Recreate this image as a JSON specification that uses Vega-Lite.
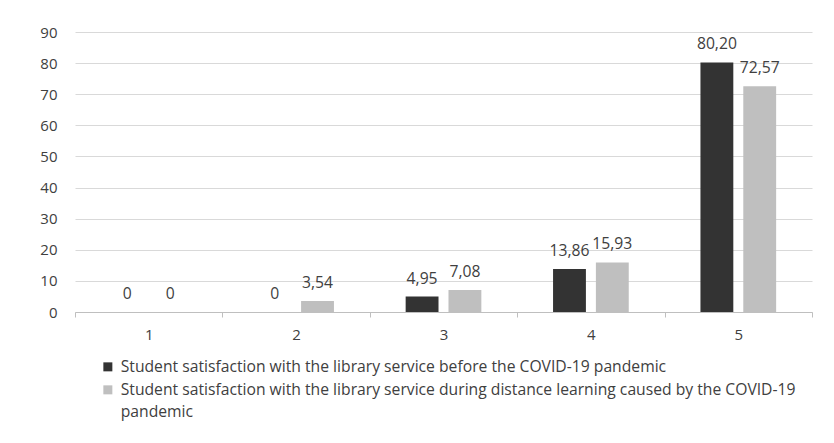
{
  "$schema": "https://vega.github.io/schema/vega-lite/v6.json",
  "width": 737,
  "height": 280,
  "autosize": {"type": "none"},
  "padding": {"left": 75, "top": 32, "right": 22, "bottom": 131},
  "background": "white",
  "config": {
    "view": {"stroke": null},
    "font": "Open Sans",
    "style": {"guide-label": {"lineHeight": 22}},
    "legend": {"labelFont": "Open Sans"}
  },
  "data": {
    "values": [
      {"category": "1", "series": "Student satisfaction with the library service before the COVID-19 pandemic", "value": 0},
      {"category": "1", "series": "Student satisfaction with the library service during distance learning caused by the COVID-19 pandemic", "value": 0},
      {"category": "2", "series": "Student satisfaction with the library service before the COVID-19 pandemic", "value": 0},
      {"category": "2", "series": "Student satisfaction with the library service during distance learning caused by the COVID-19 pandemic", "value": 3.54},
      {"category": "3", "series": "Student satisfaction with the library service before the COVID-19 pandemic", "value": 4.95},
      {"category": "3", "series": "Student satisfaction with the library service during distance learning caused by the COVID-19 pandemic", "value": 7.08},
      {"category": "4", "series": "Student satisfaction with the library service before the COVID-19 pandemic", "value": 13.86},
      {"category": "4", "series": "Student satisfaction with the library service during distance learning caused by the COVID-19 pandemic", "value": 15.93},
      {"category": "5", "series": "Student satisfaction with the library service before the COVID-19 pandemic", "value": 80.2},
      {"category": "5", "series": "Student satisfaction with the library service during distance learning caused by the COVID-19 pandemic", "value": 72.57}
    ]
  },
  "transform": [
    {"calculate": "datum.value == 0 ? '0' : replace(format(datum.value, '.2f'), '.', ',')", "as": "label"}
  ],
  "encoding": {
    "x": {
      "field": "category",
      "type": "nominal",
      "scale": {"paddingInner": 0, "paddingOuter": 0},
      "axis": {
        "title": null,
        "labelAngle": 0,
        "labelFont": "Open Sans",
        "labelFontSize": 15,
        "labelColor": "#404040",
        "domainColor": "#bfbfbf",
        "tickColor": "#bfbfbf",
        "tickSize": 5,
        "tickBand": "extent",
        "labelPadding": 10,
        "grid": false
      }
    },
    "xOffset": {
      "field": "series",
      "type": "nominal",
      "scale": {"paddingInner": 0.233, "paddingOuter": 0.837}
    },
    "y": {
      "field": "value",
      "type": "quantitative",
      "scale": {"domain": [0, 90]},
      "axis": {
        "title": null,
        "values": [0, 10, 20, 30, 40, 50, 60, 70, 80, 90],
        "labelOverlap": false,
        "labelFont": "Open Sans",
        "labelFontSize": 15,
        "labelColor": "#404040",
        "domain": false,
        "ticks": false,
        "labelPadding": 18,
        "gridColor": "#d9d9d9",
        "gridWidth": 1
      }
    }
  },
  "layer": [
    {
      "mark": {"type": "bar"},
      "encoding": {
        "color": {
          "field": "series",
          "type": "nominal",
          "scale": {
            "domain": [
              "Student satisfaction with the library service before the COVID-19 pandemic",
              "Student satisfaction with the library service during distance learning caused by the COVID-19 pandemic"
            ],
            "range": ["#333333", "#bfbfbf"]
          },
          "legend": {
            "title": null,
            "orient": "none",
            "legendX": 25,
            "legendY": 327,
            "direction": "vertical",
            "symbolType": "square",
            "symbolSize": 81,
            "symbolStrokeWidth": 0,
            "labelFontSize": 15.7,
            "labelColor": "#404040",
            "labelLimit": 0,
            "labelOffset": 5,
            "rowPadding": 6,
            "labelExpr": "indexof(datum.label, 'during') >= 0 ? ['Student satisfaction with the library service during distance learning caused by the COVID-19', 'pandemic'] : datum.label"
          }
        }
      }
    },
    {
      "mark": {"type": "text", "baseline": "alphabetic", "dy": -13, "fontSize": 15.7, "color": "#404040", "font": "Open Sans"},
      "encoding": {
        "text": {"field": "label"}
      }
    }
  ]
}
